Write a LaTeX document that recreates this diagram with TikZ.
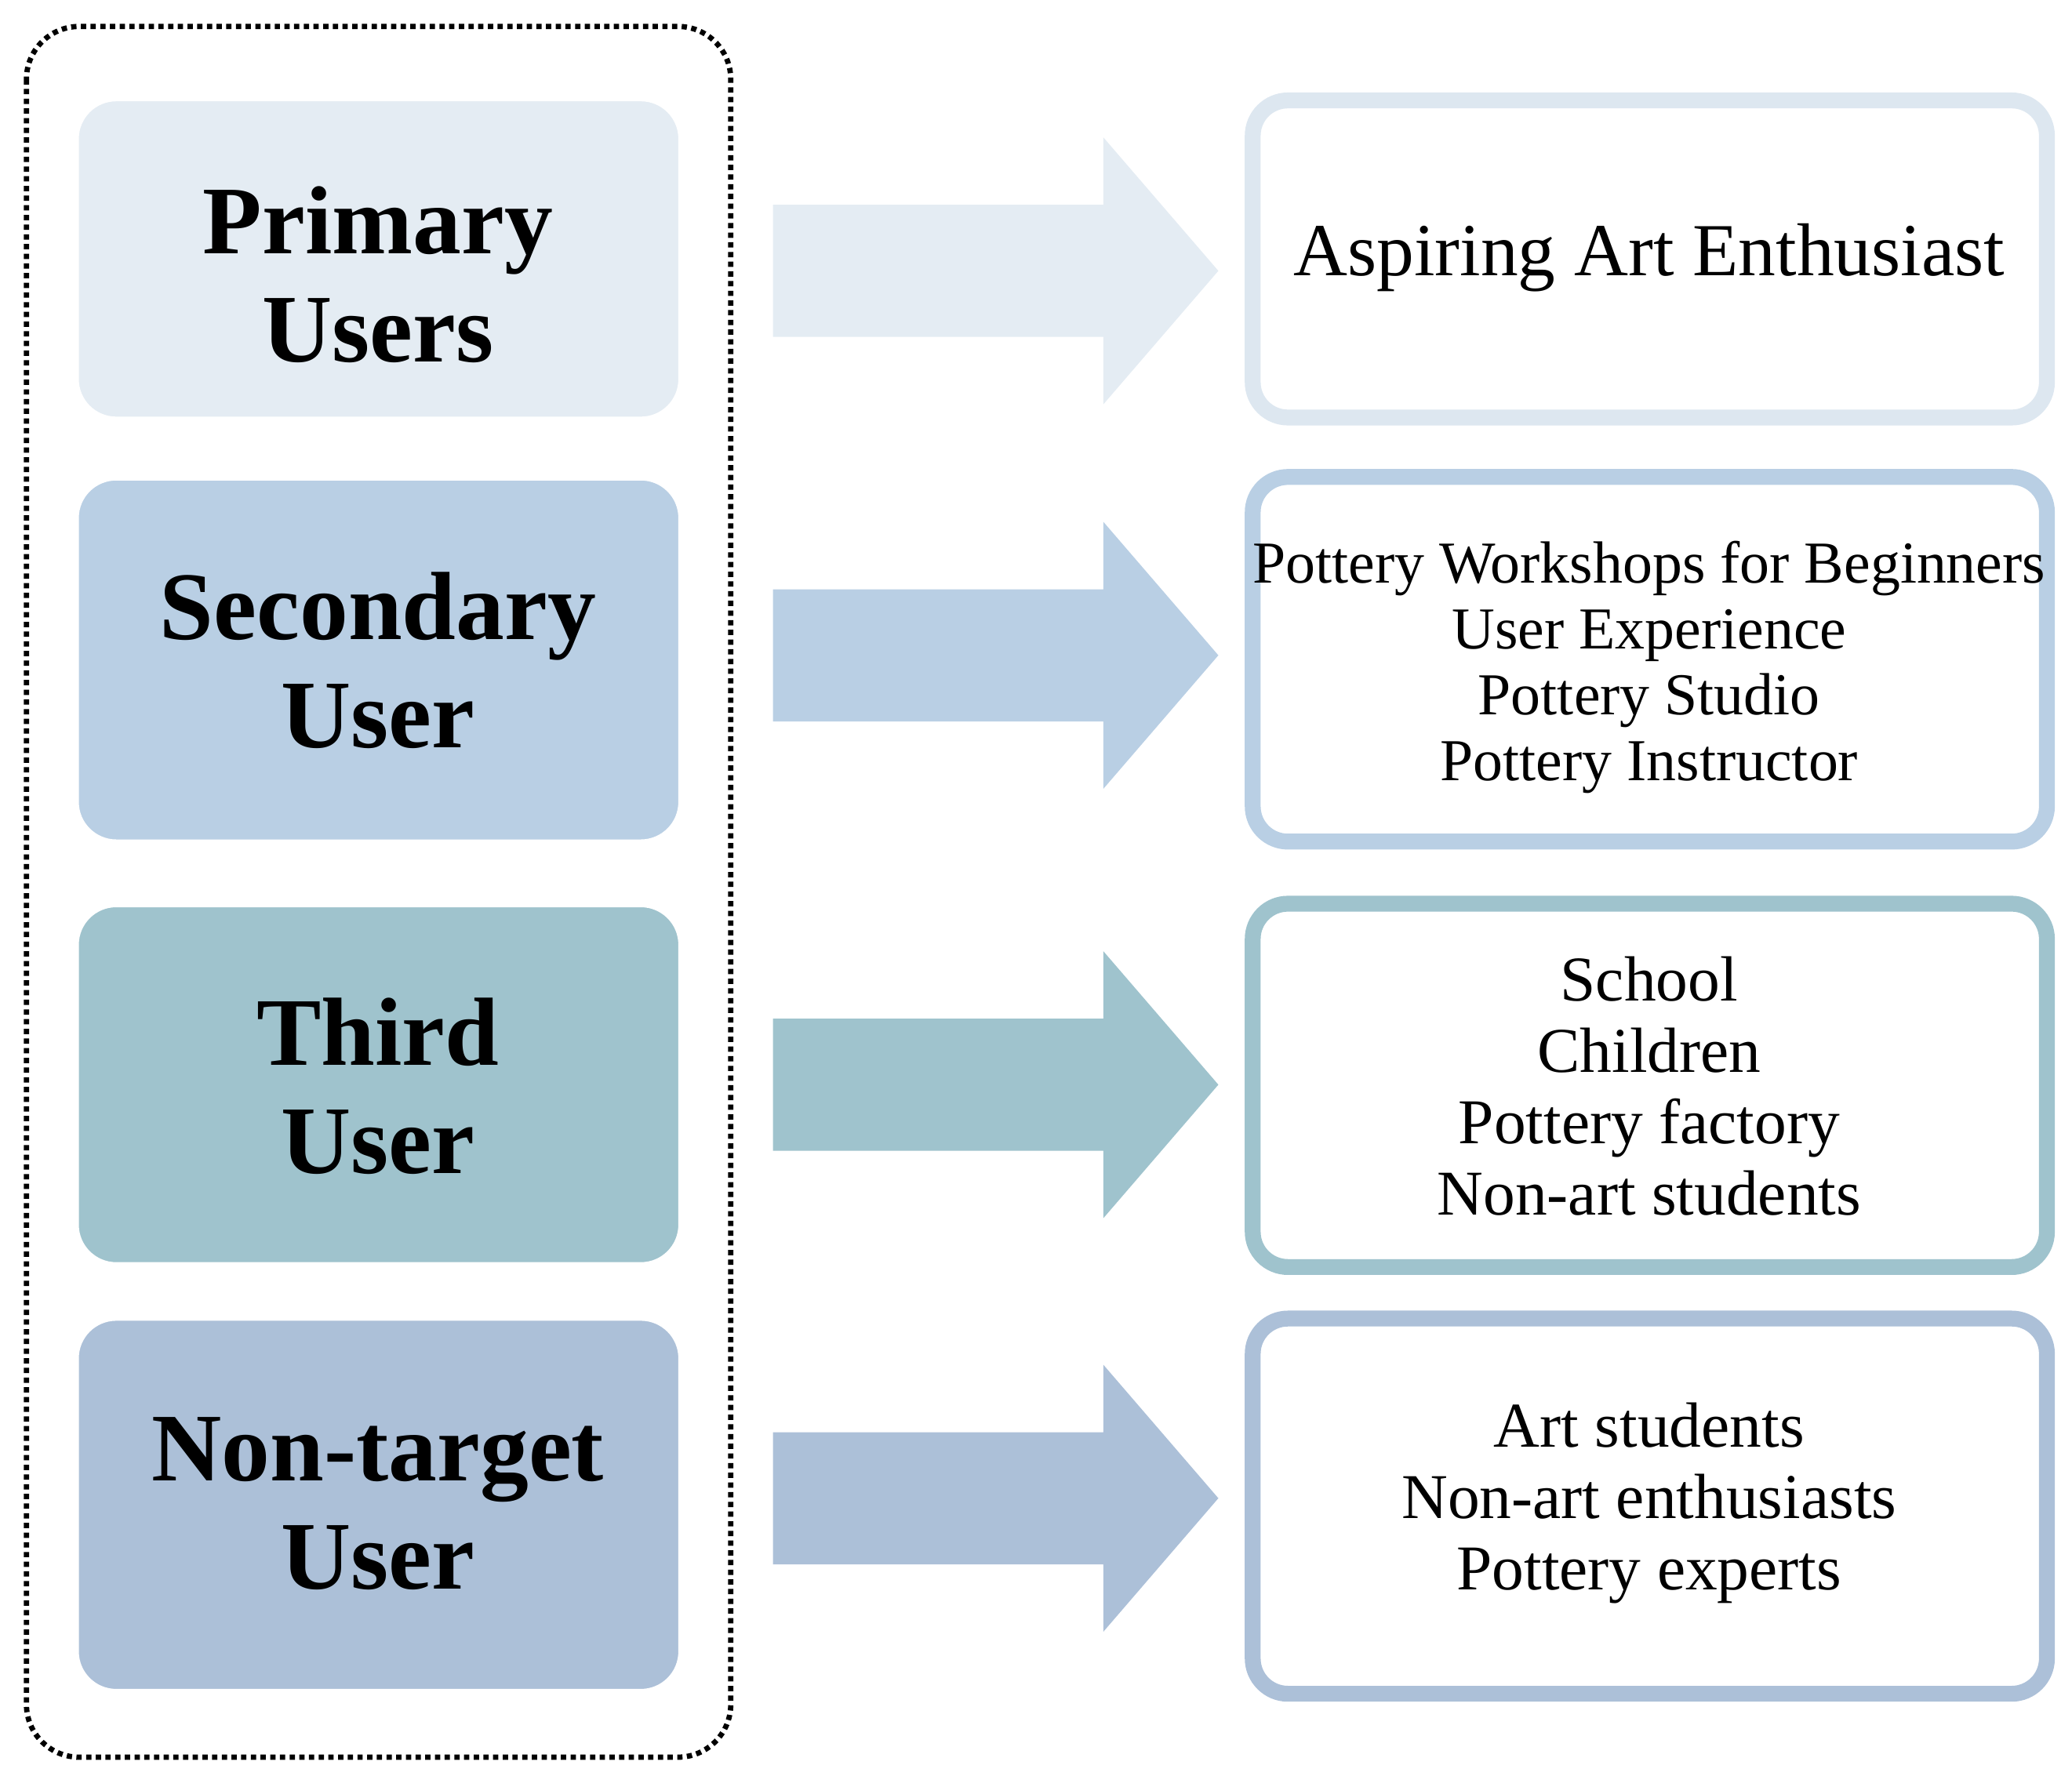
\documentclass[tikz,border=0pt]{standalone}
\usepackage{fontspec}
\setmainfont{Liberation Serif}
\definecolor{cA}{HTML}{E4ECF3}
\definecolor{cAb}{HTML}{DDE7F0}
\definecolor{cB}{HTML}{B9CFE4}
\definecolor{cC}{HTML}{9FC3CD}
\definecolor{cD}{HTML}{ACC0D8}
\begin{document}
\begin{tikzpicture}[x=0.3pt,y=-0.3pt,
  lbox/.style={rounded corners=9pt,draw=white,line width=1pt},
  rbox/.style={rounded corners=8pt,fill=white,line width=3.6pt},
  lt/.style={font=\fontsize{22}{24.6}\selectfont\bfseries,align=center},
  rt/.style={align=center}]
\useasboundingbox (0,0) rectangle (1568,1344);
\draw[densely dotted,line width=1.2pt,rounded corners=12pt] (20,20) rectangle (553,1330);
% left boxes
\path[lbox,fill=cA] (58,75) rectangle (515,317);
\path[lbox,fill=cB] (58,362) rectangle (515,637);
\path[lbox,fill=cC] (58,685) rectangle (515,957);
\path[lbox,fill=cD] (58,998) rectangle (515,1280);
\node[lt] (l1) at (286,208) {Primary\\Users};
\node[lt] (l2) at (286,500) {Secondary\\User};
\node[lt] (l3) at (286,822) {Third\\User};
\node[lt] (l4) at (286,1138) {Non-target\\User};
% arrows
\foreach \c/\m in {cA/205,cB/496,cC/821,cD/1134}{
  \fill[\c] (585,\m-50) -- (835,\m-50) -- (835,\m-101) -- (922,\m) -- (835,\m+101) -- (835,\m+50) -- (585,\m+50) -- cycle;
}
% right boxes
\draw[rbox,draw=cAb] (948,76) rectangle (1549,316);
\draw[rbox,draw=cB] (948,361) rectangle (1549,637);
\draw[rbox,draw=cC] (948,684) rectangle (1549,959);
\draw[rbox,draw=cD] (948,998) rectangle (1549,1282);
\node[rt,font=\fontsize{17}{20}\selectfont] (r1) at (1248,195) {Aspiring Art Enthusiast};
\node[rt,font=\fontsize{13.5}{15}\selectfont] (r2) at (1248,505) {Pottery Workshops for Beginners\\User Experience\\Pottery Studio\\Pottery Instructor};
\node[rt,font=\fontsize{14.5}{16.2}\selectfont] (r3) at (1248,822) {School\\Children\\Pottery factory\\Non-art students};
\node[rt,font=\fontsize{14.5}{16.2}\selectfont] (r4) at (1248,1138) {Art students\\Non-art enthusiasts\\Pottery experts};
\end{tikzpicture}
\end{document}
